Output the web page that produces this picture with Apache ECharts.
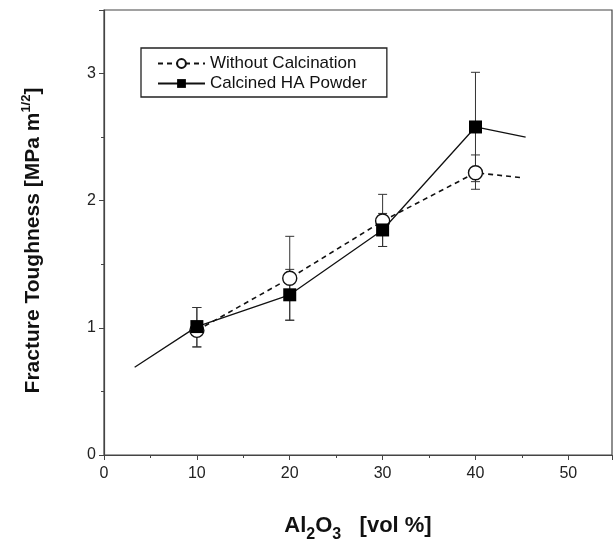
<!DOCTYPE html>
<html>
<head>
<meta charset="utf-8">
<script src="https://cdn.jsdelivr.net/npm/echarts@6/dist/echarts.min.js"></script>
<style>html,body{margin:0;padding:0;background:#fff;}#c{width:613px;height:539px;}</style>
</head>
<body>
<div id="c"></div>
<script>
// Without Calcination (open circles, dashed line)
const withoutX = [10, 20, 30, 40, 45.1];
const withoutY = [0.98, 1.39, 1.84, 2.22, 2.18];
const withoutMarked = [true, true, true, true, false];
const withoutErrLow = [0.85, 1.06, 1.64, 2.09, null];
const withoutErrHigh = [1.16, 1.72, 2.05, 2.36, null];

// Calcined HA Powder (filled squares, solid line)
const calcX = [3.3, 10, 20, 30, 40, 45.4];
const calcY = [0.69, 1.01, 1.26, 1.77, 2.58, 2.50];
const calcMarked = [false, true, true, true, true, false];
const calcErrLow = [null, 0.85, 1.06, 1.64, 2.15, null];
const calcErrHigh = [null, 1.16, 1.46, 1.90, 3.01, null];

const xTicks = [0, 10, 20, 30, 40, 50];
const yTicks = [0, 1, 2, 3];

const seriesNames = ['Without Calcination', 'Calcined HA Powder'];

function lineData(xs, ys, marked) {
  return xs.map((x, i) => marked[i] ? [x, ys[i]] : {value: [x, ys[i]], symbol: 'none'});
}
function errData(xs, lo, hi) {
  const out = [];
  xs.forEach((x, i) => { if (lo[i] != null) out.push([x, lo[i], hi[i]]); });
  return out;
}
function renderErr(params, api) {
  const x = api.value(0);
  const lo = api.coord([x, api.value(1)]);
  const hi = api.coord([x, api.value(2)]);
  const cw = 4.5;
  const st = {stroke: '#333', lineWidth: 1};
  return {
    type: 'group',
    children: [
      {type: 'line', shape: {x1: lo[0], y1: lo[1], x2: hi[0], y2: hi[1]}, style: st},
      {type: 'line', shape: {x1: lo[0] - cw, y1: lo[1], x2: lo[0] + cw, y2: lo[1]}, style: st},
      {type: 'line', shape: {x1: hi[0] - cw, y1: hi[1], x2: hi[0] + cw, y2: hi[1]}, style: st}
    ]
  };
}

const chart = echarts.init(document.getElementById('c'), null, {renderer: 'canvas'});
const font = 'Liberation Sans, Arial, Helvetica, sans-serif';
chart.setOption({
  animation: false,
  backgroundColor: '#fff',
  textStyle: {fontFamily: font},
  grid: {left: 104, right: 1, top: 10, bottom: 84, containLabel: false, outerBoundsMode: 'none',
    show: true, borderColor: '#444', borderWidth: 1.2, backgroundColor: 'transparent'},
  legend: {
    orient: 'vertical', left: 141, top: 48,
    data: seriesNames,
    itemWidth: 47, itemHeight: 11, itemGap: 3,
    padding: [7, 20, 5, 16],
    borderColor: '#222', borderWidth: 1.3,
    textStyle: {fontSize: 17, color: '#111', fontFamily: font}
  },
  xAxis: {
    type: 'value', min: 0, max: 54.7, interval: 10,
    name: '{b|Al}{s|2}{b|O}{s|3}{b|   [vol %]}',
    nameLocation: 'middle', nameGap: 60,
    nameTextStyle: {rich: {
      b: {fontSize: 22, fontWeight: 'bold', color: '#111', fontFamily: font, lineHeight: 28, verticalAlign: 'top'},
      s: {fontSize: 16, fontWeight: 'bold', color: '#111', fontFamily: font, lineHeight: 28, verticalAlign: 'bottom', padding: [9, 0, 0, 0]}
    }},
    axisLine: {show: true, lineStyle: {color: '#444', width: 1.2}},
    axisTick: {show: true, inside: false, length: 5, lineStyle: {color: '#444'}},
    minorTick: {show: true, splitNumber: 2, length: 3, lineStyle: {color: '#444'}},
    axisLabel: {fontSize: 16, color: '#222', margin: 11, fontFamily: font, showMaxLabel: false,
      formatter: v => xTicks.indexOf(v) >= 0 ? String(v) : ''},
    splitLine: {show: false}
  },
  yAxis: {
    type: 'value', min: 0, max: 3.5, interval: 1,
    name: '{b|Fracture Toughness [MPa m}{s|1/2}{b|]}',
    nameLocation: 'middle', nameGap: 60, nameRotate: 90,
    nameTextStyle: {padding: [0, 16, 0, 0], rich: {
      b: {fontSize: 21, fontWeight: 'bold', color: '#111', fontFamily: font, lineHeight: 24, verticalAlign: 'bottom'},
      s: {fontSize: 13, fontWeight: 'bold', color: '#111', fontFamily: font, lineHeight: 24, verticalAlign: 'top'}
    }},
    axisLine: {show: true, lineStyle: {color: '#444', width: 1.2}},
    axisTick: {show: true, inside: false, length: 5, lineStyle: {color: '#444'}},
    minorTick: {show: true, splitNumber: 2, length: 3, lineStyle: {color: '#444'}},
    axisLabel: {fontSize: 16, color: '#222', margin: 8, fontFamily: font,
      formatter: v => yTicks.indexOf(v) >= 0 ? String(v) : ''},
    splitLine: {show: false}
  },
  series: [
    {
      name: seriesNames[0] + ' err', type: 'custom', renderItem: renderErr,
      data: errData(withoutX, withoutErrLow, withoutErrHigh), z: 1, silent: true
    },
    {
      name: seriesNames[1] + ' err', type: 'custom', renderItem: renderErr,
      data: errData(calcX, calcErrLow, calcErrHigh), z: 1, silent: true
    },
    {
      name: seriesNames[0], type: 'line',
      data: lineData(withoutX, withoutY, withoutMarked),
      symbol: 'circle', symbolSize: 14, showAllSymbol: true,
      lineStyle: {color: '#111', width: 1.6, type: [5, 4]},
      itemStyle: {color: '#fff', borderColor: '#111', borderWidth: 1.4},
      z: 3
    },
    {
      name: seriesNames[1], type: 'line',
      data: lineData(calcX, calcY, calcMarked),
      symbol: 'rect', symbolSize: 13, showAllSymbol: true,
      lineStyle: {color: '#111', width: 1.3, type: 'solid'},
      itemStyle: {color: '#000', borderColor: '#000', borderWidth: 0},
      z: 4
    }
  ]
});
</script>
</body>
</html>
